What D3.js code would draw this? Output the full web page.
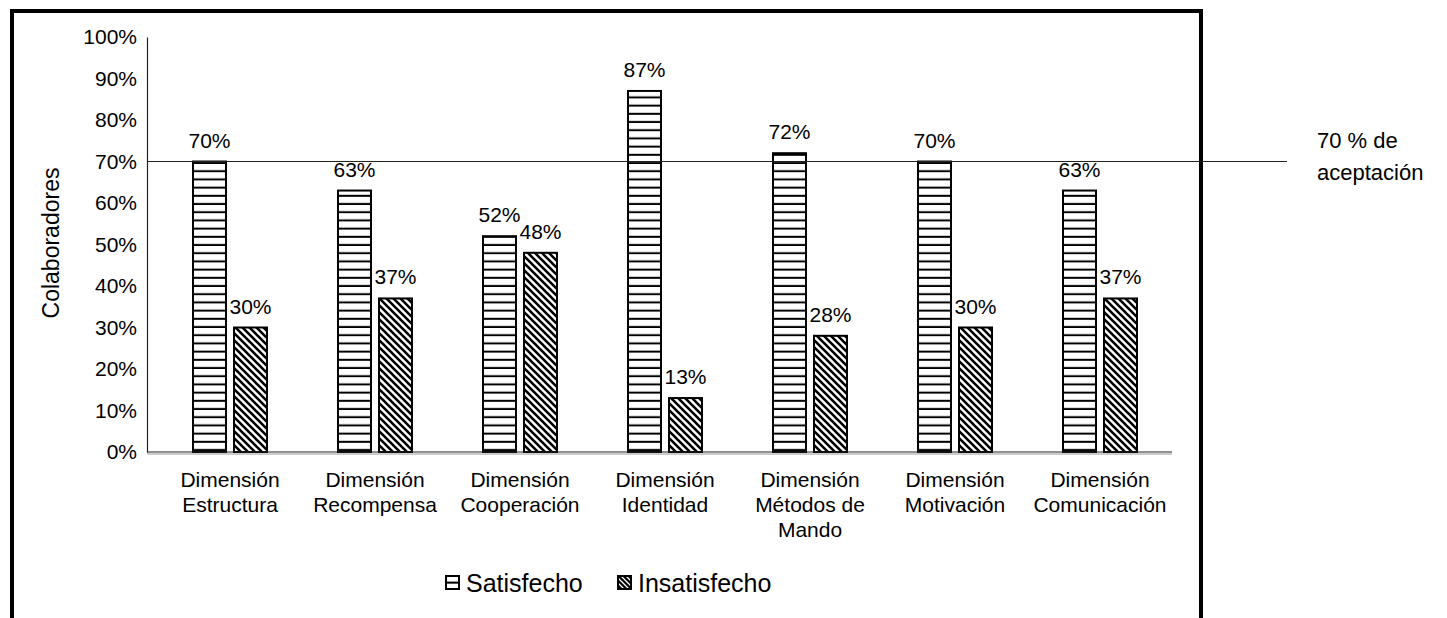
<!DOCTYPE html>
<html>
<head>
<meta charset="utf-8">
<script src="https://cdn.jsdelivr.net/npm/d3@7"></script>
<style>
  html, body { margin: 0; padding: 0; background: #fff; }
  svg { display: block; font-family: "Liberation Sans", Arial, sans-serif; }
</style>
</head>
<body>
<svg id="chart" width="1447" height="618"></svg>
<script>
// Clima organizacional por dimensión
const categories = [
  ["Dimensión", "Estructura"],
  ["Dimensión", "Recompensa"],
  ["Dimensión", "Cooperación"],
  ["Dimensión", "Identidad"],
  ["Dimensión", "Métodos de", "Mando"],
  ["Dimensión", "Motivación"],
  ["Dimensión", "Comunicación"]
];
const satisfecho   = [70, 63, 52, 87, 72, 70, 63];
const insatisfecho = [30, 37, 48, 13, 28, 30, 37];
const seriesNames  = ["Satisfecho", "Insatisfecho"];
const yTicks       = [0, 10, 20, 30, 40, 50, 60, 70, 80, 90, 100];
const threshold    = 70;
const thresholdLabel = ["70 % de", "aceptación"];
const yTitle = "Colaboradores";

const svg = d3.select("#chart");

// Fill patterns: horizontal rules and diagonal hatching
const defs = svg.append("defs");
const ph = defs.append("pattern").attr("id", "pat-h")
  .attr("patternUnits", "userSpaceOnUse").attr("width", 8).attr("height", 8.2);
ph.append("rect").attr("width", 8).attr("height", 8.2).attr("fill", "#fff");
ph.append("rect").attr("y", 6.2).attr("width", 8).attr("height", 2).attr("fill", "#000");

const pd = defs.append("pattern").attr("id", "pat-d")
  .attr("patternUnits", "userSpaceOnUse").attr("width", 7).attr("height", 7);
pd.append("rect").attr("width", 7).attr("height", 7).attr("fill", "#fff");
pd.append("path").attr("d", "M-1,-1 L8,8 M-4.5,2.5 L1,8 M6,-1 L11,4")
  .attr("stroke", "#000").attr("stroke-width", 2.6);

// Smaller swatch fills for the legend keys
const lh = defs.append("pattern").attr("id", "leg-h")
  .attr("patternUnits", "objectBoundingBox").attr("width", 1).attr("height", 1)
  .attr("patternContentUnits", "objectBoundingBox");
lh.append("rect").attr("width", 1).attr("height", 1).attr("fill", "#fff");
lh.append("rect").attr("y", 0.43).attr("width", 1).attr("height", 0.16).attr("fill", "#000");

const ld = defs.append("pattern").attr("id", "leg-d")
  .attr("patternUnits", "userSpaceOnUse").attr("width", 5).attr("height", 5);
ld.append("rect").attr("width", 5).attr("height", 5).attr("fill", "#000");
ld.append("path").attr("d", "M-1,-1 L6,6 M-3.5,1.5 L1,6 M4,-1 L8,3")
  .attr("stroke", "#fff").attr("stroke-width", 1.3);

const patterns = ["url(#pat-h)", "url(#pat-d)"];
const legendFills = ["url(#leg-h)", "url(#leg-d)"];

// Outer frame
svg.append("rect")
  .attr("x", 12).attr("y", 11).attr("width", 1189).attr("height", 700)
  .attr("fill", "none").attr("stroke", "#000").attr("stroke-width", 4);

// Scales
const x = d3.scaleBand().domain(d3.range(categories.length)).range([157.5, 1172.5]);
const y = d3.scaleLinear().domain([0, 100]).range([452, 37]);
const barW = 33, gap = 8;
const x1 = d3.scaleOrdinal().domain([0, 1]).range([-(barW + gap / 2), gap / 2]);

// Y axis
const yAxis = d3.axisLeft(y).tickValues(yTicks).tickSize(0).tickPadding(10)
  .tickFormat(d => d + "%");
const gy = svg.append("g").attr("transform", "translate(147,0)").call(yAxis);
gy.select(".domain").attr("stroke", "#222").attr("stroke-width", 1.2);
gy.selectAll("text").attr("font-size", 21).attr("fill", "#000")
  .attr("font-family", "Liberation Sans, Arial, sans-serif");

// Y title
svg.append("text")
  .attr("transform", "translate(59,243) rotate(-90)")
  .attr("text-anchor", "middle")
  .attr("font-size", 23)
  .text(yTitle);

// Bars
const data = categories.map((c, i) => ({ i, vals: [satisfecho[i], insatisfecho[i]] }));
const groups = svg.append("g").selectAll("g").data(data).join("g")
  .attr("transform", d => `translate(${x(d.i) + x.bandwidth() / 2},0)`);

groups.selectAll("rect").data(d => d.vals.map((v, s) => ({ v, s }))).join("rect")
  .attr("x", d => x1(d.s))
  .attr("y", d => y(d.v))
  .attr("width", barW)
  .attr("height", d => y(0) - y(d.v))
  .attr("fill", d => patterns[d.s])
  .attr("stroke", "#000").attr("stroke-width", 2);

groups.selectAll("text.val").data(d => d.vals.map((v, s) => ({ v, s }))).join("text")
  .attr("class", "val")
  .attr("x", d => x1(d.s) + barW / 2)
  .attr("y", d => y(d.v) - 14)
  .attr("text-anchor", "middle")
  .attr("font-size", 21)
  .text(d => d.v + "%");

// X axis baseline with soft shadow
svg.append("line").attr("x1", 147).attr("x2", 1172).attr("y1", y(0) + 2).attr("y2", y(0) + 2)
  .attr("stroke", "#ccc").attr("stroke-width", 2);
svg.append("line").attr("x1", 147).attr("x2", 1172).attr("y1", y(0)).attr("y2", y(0))
  .attr("stroke", "#222").attr("stroke-width", 1.2);

// Category labels
const lab = svg.append("g").selectAll("text").data(categories).join("text")
  .attr("x", (d, i) => x(i) + x.bandwidth() / 2)
  .attr("y", 487)
  .attr("text-anchor", "middle")
  .attr("font-size", 21);
lab.selectAll("tspan").data(d => d).join("tspan")
  .attr("x", function () { return d3.select(this.parentNode).attr("x"); })
  .attr("dy", (d, k) => k === 0 ? 0 : 25)
  .text(d => d);

// 70 % acceptance line
svg.append("line")
  .attr("x1", 147).attr("x2", 1287)
  .attr("y1", y(threshold)).attr("y2", y(threshold))
  .attr("stroke", "#222").attr("stroke-width", 1.2);
svg.append("text").attr("x", 1317).attr("y", 148).attr("font-size", 22)
  .selectAll("tspan").data(thresholdLabel).join("tspan")
  .attr("x", 1317).attr("dy", (d, k) => k === 0 ? 0 : 32).text(d => d);

// Legend
const legend = svg.append("g");
const legX = [446, 618];
seriesNames.forEach((name, s) => {
  legend.append("rect")
    .attr("x", legX[s]).attr("y", 576).attr("width", 13).attr("height", 13)
    .attr("fill", legendFills[s]).attr("stroke", "#000").attr("stroke-width", 2);
  legend.append("text")
    .attr("x", legX[s] + 20).attr("y", 592)
    .attr("font-size", 25)
    .text(name);
});
</script>
</body>
</html>
